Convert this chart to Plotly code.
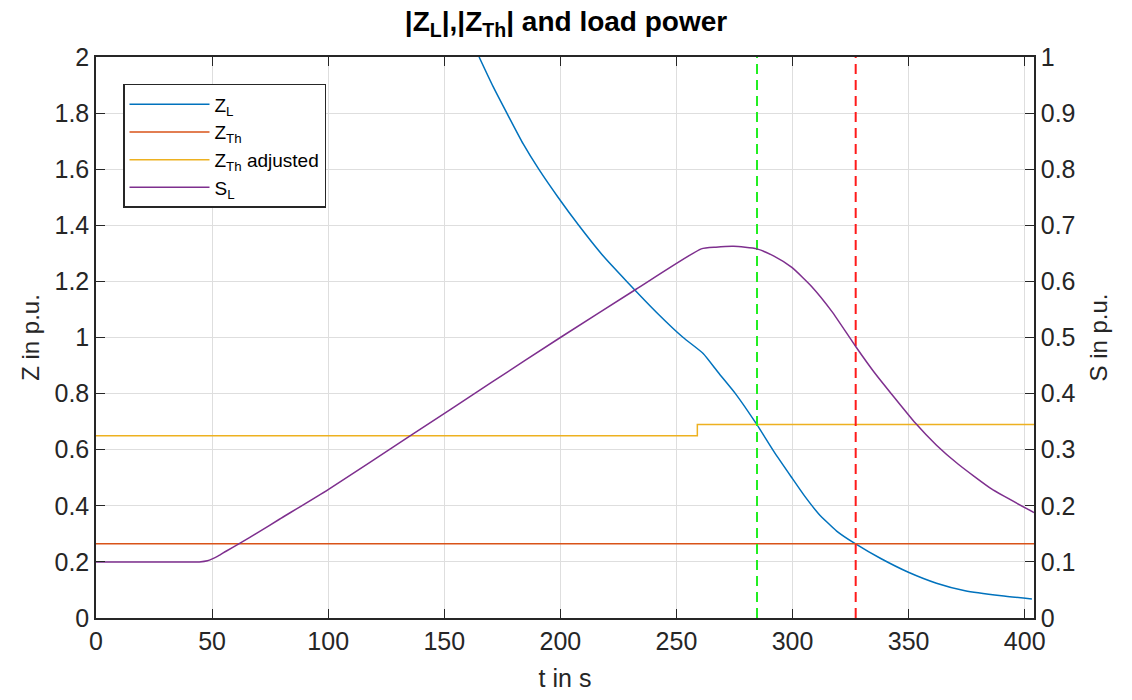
import plotly.graph_objects as go

# Time axis limits (s)
t_max = 404

# |Z_L| (p.u.) -- load impedance magnitude
zl_t = [165, 171, 177.9, 184, 190.7, 199, 207.9, 218, 228.6, 242, 252.9, 261.5,
        268, 275.4, 284.6, 292, 299.7, 305, 311.2, 319, 327, 338, 349.9, 362, 374.3, 390, 403.1]
zl_v = [2.0, 1.895, 1.785, 1.69, 1.6, 1.5, 1.4, 1.295, 1.2, 1.085, 1.0, 0.943,
        0.875, 0.8, 0.69, 0.593, 0.5, 0.437, 0.372, 0.31, 0.265, 0.212, 0.163, 0.124, 0.097, 0.079, 0.068]

# |Z_Th| (p.u.) -- Thevenin impedance
zth_t = [0, t_max]
zth_v = [0.265, 0.265]

# |Z_Th| adjusted (p.u.) -- step change
zth_adj_t = [0, 259, t_max]
zth_adj_v = [0.65, 0.69, 0.69]

# S_L (p.u.) -- load power, right axis
sl_t = [0, 20, 44.5, 48, 52.5, 56, 61.7, 70, 79, 100, 135.6, 170, 200, 232.6, 260.7, 267, 274.6,
        284.6, 292, 299.7, 308.3, 317, 327.2, 335, 342.7, 352.8, 362, 371.4, 385.7, 404]
sl_v = [0.1, 0.1, 0.1, 0.1019, 0.1102, 0.119, 0.1325, 0.153, 0.176, 0.229, 0.3255, 0.419, 0.5, 0.586, 0.658, 0.661, 0.6625,
        0.658, 0.645, 0.625, 0.5906, 0.5462, 0.484, 0.439, 0.399, 0.348, 0.308, 0.274, 0.23, 0.188]

# Event markers (s)
t_green = 284.7
t_red = 327.2

blue, orange, yellow, purple = "#0072BD", "#D95319", "#EDB120", "#7E2F8E"
axis_col = "#262626"
grid_col = "#dedede"
font_fam = "Liberation Sans, Arial, sans-serif"

fig = go.Figure()
fig.add_trace(go.Scatter(x=zl_t, y=zl_v, mode="lines", name="Z<sub>L</sub>",
                         line=dict(color=blue, width=1.5, shape="spline", smoothing=0.5)))
fig.add_trace(go.Scatter(x=zth_t, y=zth_v, mode="lines", name="Z<sub>Th</sub>",
                         line=dict(color=orange, width=1.5)))
fig.add_trace(go.Scatter(x=zth_adj_t, y=zth_adj_v, mode="lines", name="Z<sub>Th</sub> adjusted",
                         line=dict(color=yellow, width=1.5, shape="hv")))
fig.add_trace(go.Scatter(x=sl_t, y=sl_v, mode="lines", name="S<sub>L</sub>", yaxis="y2",
                         line=dict(color=purple, width=1.5, shape="spline", smoothing=0.5)))
fig.add_trace(go.Scatter(x=[t_green, t_green], y=[0, 2], mode="lines", showlegend=False,
                         line=dict(color="#22ee22", width=2, dash="10px,6px")))
fig.add_trace(go.Scatter(x=[t_red, t_red], y=[0, 2], mode="lines", showlegend=False,
                         line=dict(color="#ff1a1a", width=2, dash="10px,6px")))

fig.update_layout(
    width=1132, height=700,
    margin=dict(l=96, r=98, t=57, b=80),
    paper_bgcolor="white", plot_bgcolor="white",
    font=dict(family=font_fam, size=25, color=axis_col),
    title=dict(text="<b>|Z<sub>L</sub>|,|Z<sub>Th</sub>| and load power</b>",
               x=0.5, xanchor="center", xref="container",
               y=1 - 21 / 700, yanchor="middle", yref="container",
               font=dict(size=28, color="black")),
    xaxis=dict(range=[0, t_max], tickvals=[0, 50, 100, 150, 200, 250, 300, 350, 400],
               showline=True, linecolor=axis_col, linewidth=1.5, mirror="ticks",
               ticks="inside", ticklen=9, tickcolor=axis_col, tickwidth=1.2,
               showgrid=True, gridcolor=grid_col, gridwidth=1, zeroline=False,
               title=dict(text="t in s", standoff=16, font=dict(size=25))),
    yaxis=dict(range=[0, 2], tickvals=[0, 0.2, 0.4, 0.6, 0.8, 1, 1.2, 1.4, 1.6, 1.8, 2],
               ticktext=["0", "0.2", "0.4", "0.6", "0.8", "1", "1.2", "1.4", "1.6", "1.8", "2"],
               showline=True, linecolor=axis_col, linewidth=1.5,
               ticks="inside", ticklen=9, tickcolor=axis_col, tickwidth=1.2,
               showgrid=True, gridcolor=grid_col, gridwidth=1, zeroline=False,
               title=dict(text="Z in p.u.", standoff=8, font=dict(size=24))),
    yaxis2=dict(range=[0, 1], tickvals=[0, 0.1, 0.2, 0.3, 0.4, 0.5, 0.6, 0.7, 0.8, 0.9, 1],
                ticktext=["0", "0.1", "0.2", "0.3", "0.4", "0.5", "0.6", "0.7", "0.8", "0.9", "1"],
                overlaying="y", side="right",
                showline=True, linecolor=axis_col, linewidth=1.5,
                ticks="inside", ticklen=9, tickcolor=axis_col, tickwidth=1.2,
                showgrid=False, zeroline=False,
                title=dict(text="S in p.u.", standoff=16, font=dict(size=24))),
    legend=dict(x=(123 - 96) / 938, y=(620 - 84) / 563, xanchor="left", yanchor="top",
                bgcolor="white", bordercolor=axis_col, borderwidth=1.5,
                font=dict(size=19, color="black"), tracegroupgap=0,
                itemwidth=80),
    showlegend=True,
)

fig.write_html("out.html")
